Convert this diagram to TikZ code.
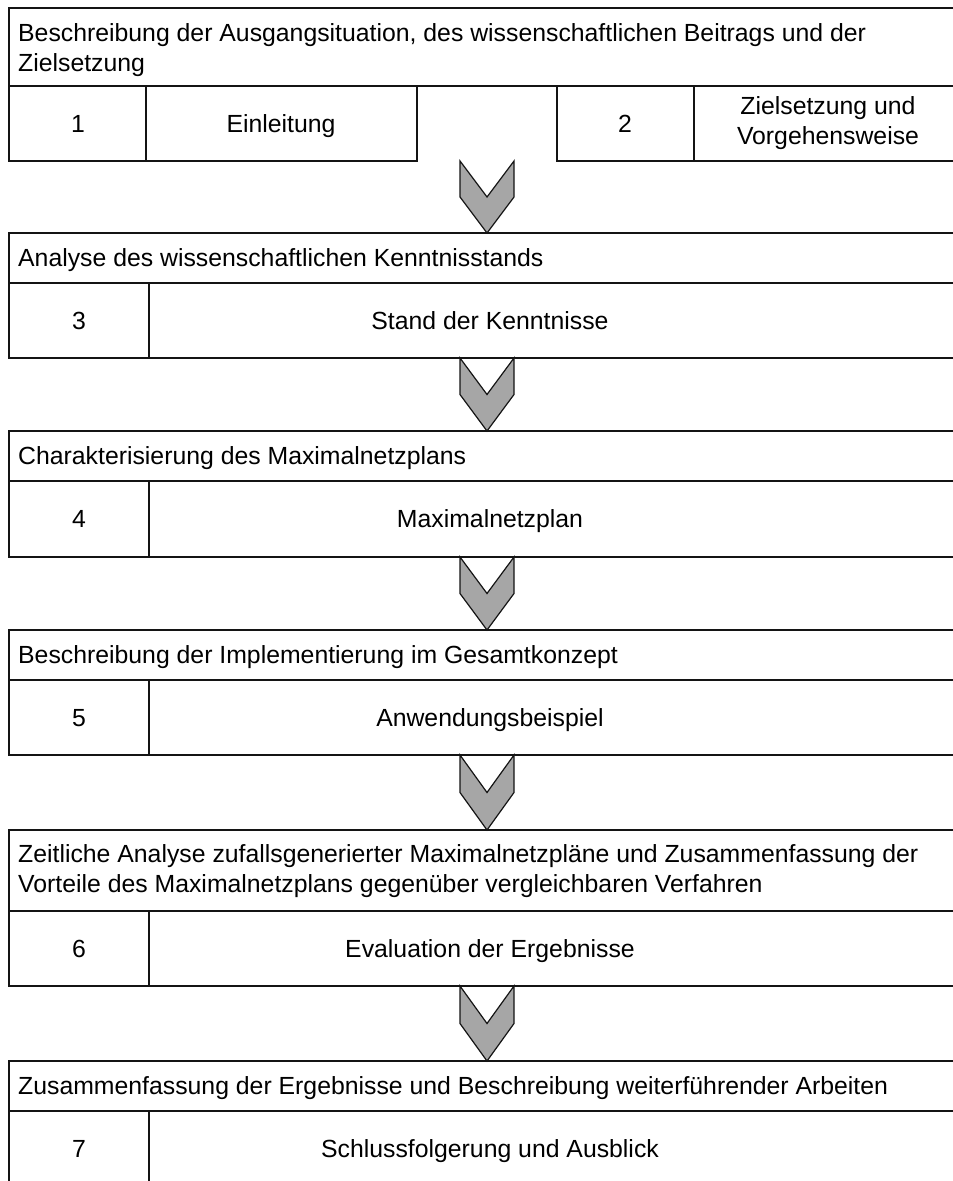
\documentclass[tikz,border=0pt]{standalone}
\usepackage{fontspec}
\setmainfont{Liberation Sans}
\definecolor{chevgray}{HTML}{A6A6A6}
\definecolor{rule}{HTML}{141414}
\begin{document}
\begin{tikzpicture}[x=1pt,y=-1pt,
  frame/.style={draw=rule,line width=1.5pt},
  chev/.style={draw=rule,fill=chevgray,line width=1.2pt,line join=miter},
  txt/.style={inner sep=0pt,font=\fontsize{24.8}{30}\selectfont},
  head/.style={txt,anchor=base west,align=left},
  lbl/.style={txt,anchor=base,align=center},
  lbltwo/.style={txt,align=center}]

% page area; everything beyond the right and lower edge is cut off
\path[use as bounding box,clip] (0,0) rectangle (953,1181);

% half the cap height, so that a line sits centred on a given y
\def\capmid{8.9}

% chevron between two blocks: #1 = bottom of upper block, #2 = top of lower block
\newcommand\chevron[3]{%
  \draw[chev] (460,#1) coordinate (#3) -- (487,{(#1+#2)/2}) -- (514,#1)
    -- (514,{(#1+#2)/2}) -- (487,#2) -- (460,{(#1+#2)/2}) -- cycle;}

% ---- block 1: two chapters side by side ----
% (header nodes are placed by the baseline of their last line)
\draw[frame] (9,8) rectangle (975,86);
\node[head] (h1) at (18,{63+\capmid}) {Beschreibung der Ausgangsituation, des wissenschaftlichen Beitrags und der\\Zielsetzung};
\draw[frame] (9,86) rectangle (417,161);
\draw[frame] (146,86) -- (146,161);
\draw[frame] (557,86) rectangle (975,161);
\draw[frame] (694,86) -- (694,161);
\node[lbl] (n1) at (78,{123.5+\capmid}) {1};
\node[lbl] (t1) at (281,{123.5+\capmid}) {Einleitung};
\node[lbl] (n2) at (625,{123.5+\capmid}) {2};
\node[lbltwo] (t2) at (828,123.5) {Zielsetzung und\\Vorgehensweise};

% ---- blocks 2 to 6: header row, chapter number, chapter title ----
\foreach \top/\line/\sep/\bot/\num/\head/\title in {
   233/258/283/358/3/{Analyse des wissenschaftlichen Kenntnisstands}/{Stand der Kenntnisse},
   431/456/481/557/4/{Charakterisierung des Maximalnetzplans}/{Maximalnetzplan},
   630/655/680/755/5/{Beschreibung der Implementierung im Gesamtkonzept}/{Anwendungsbeispiel},
   830/884/911/986/6/{Zeitliche Analyse zufallsgenerierter Maximalnetzpläne und Zusammenfassung der\\Vorteile des Maximalnetzplans gegenüber vergleichbaren Verfahren}/{Evaluation der Ergebnisse},
   1061/1086/1111/1187/7/{Zusammenfassung der Ergebnisse und Beschreibung weiterführender Arbeiten}/{Schlussfolgerung und Ausblick}}{
  \draw[frame] (9,\top) rectangle (975,\sep);
  \draw[frame] (9,\sep) rectangle (975,\bot);
  \draw[frame] (149,\sep) -- (149,\bot);
  \node[head] (h\num) at (18,{\line+\capmid}) {\head};
  \node[lbl] (n\num) at (79,{(\sep+\bot)/2+\capmid}) {\num};
  \node[lbl] (t\num) at (490,{(\sep+\bot)/2+\capmid}) {\title};
}

% ---- chevrons leading from one block to the next ----
\chevron{161}{233}{c1}
\chevron{358}{431}{c2}
\chevron{557}{630}{c3}
\chevron{755}{830}{c4}
\chevron{986}{1061}{c5}
\end{tikzpicture}
\end{document}
